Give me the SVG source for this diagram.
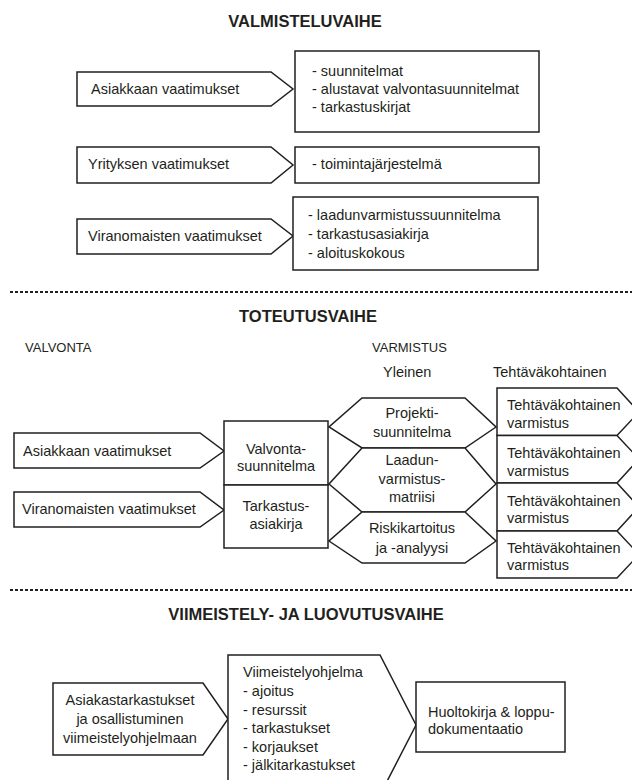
<svg xmlns="http://www.w3.org/2000/svg" width="632" height="780" viewBox="0 0 632 780">
<style>
.s{fill:#fff;stroke:#231f20;stroke-width:1.5;stroke-linejoin:miter}
text{font-family:"Liberation Sans",Arial,sans-serif;font-size:14.5px;fill:#231f20}
.t{font-weight:bold;font-size:16.5px;text-anchor:middle}
.h{font-size:13px}
.c{text-anchor:middle}
.d{fill:none;stroke:#231f20;stroke-width:2;stroke-dasharray:3 2}
</style>
<rect width="632" height="780" fill="#fff"/>

<g id="titles">
<text class="t" x="305" y="27">VALMISTELUVAIHE</text>
<text class="t" x="308" y="322">TOTEUTUSVAIHE</text>
<text class="t" x="306" y="620">VIIMEISTELY- JA LUOVUTUSVAIHE</text>
</g>

<g id="separators">
<line class="d" x1="10" y1="292" x2="632" y2="292"/>
<line class="d" x1="10" y1="590" x2="632" y2="590"/>
</g>

<g id="connectors"></g>

<!-- Section 1 -->
<g id="p1-asiakkaan">
<polygon class="s" points="77,72 271,72 293,89 271,106 77,106"/>
<text x="91" y="94">Asiakkaan vaatimukset</text>
</g>
<g id="p1-asiakkaan-box">
<rect class="s" x="295" y="51" width="244" height="81"/>
<text x="312" y="76">- suunnitelmat</text>
<text x="312" y="94">- alustavat valvontasuunnitelmat</text>
<text x="312" y="112">- tarkastuskirjat</text>
</g>
<g id="p1-yrityksen">
<polygon class="s" points="77,147 271,147 293,165 271,183 77,183"/>
<text x="88" y="169">Yrityksen vaatimukset</text>
</g>
<g id="p1-yrityksen-box">
<rect class="s" x="295" y="147" width="244" height="36"/>
<text x="312" y="169">- toimintajärjestelmä</text>
</g>
<g id="p1-viranomaisten">
<polygon class="s" points="77,219 271,219 293,236 271,254 77,254"/>
<text x="88" y="241">Viranomaisten vaatimukset</text>
</g>
<g id="p1-viranomaisten-box">
<rect class="s" x="293" y="197" width="245" height="73"/>
<text x="308" y="220">- laadunvarmistussuunnitelma</text>
<text x="308" y="239">- tarkastusasiakirja</text>
<text x="308" y="258">- aloituskokous</text>
</g>

<!-- Section 2 -->
<g id="p2-labels">
<text class="h" x="25" y="352">VALVONTA</text>
<text class="h" x="372" y="352">VARMISTUS</text>
<text x="383" y="377">Yleinen</text>
<text x="493" y="377">Tehtäväkohtainen</text>
</g>
<g id="p2-asiakkaan">
<polygon class="s" points="14,433 200,433 224,451 200,468 14,468"/>
<text x="23" y="456">Asiakkaan vaatimukset</text>
</g>
<g id="p2-viranomaisten">
<polygon class="s" points="14,492 200,492 224,510 200,527 14,527"/>
<text x="22" y="514">Viranomaisten vaatimukset</text>
</g>
<g id="p2-valvontasuunnitelma">
<rect class="s" x="224" y="421" width="104" height="64"/>
<text class="c" x="276" y="454">Valvonta-</text>
<text class="c" x="276" y="471">suunnitelma</text>
</g>
<g id="p2-tarkastusasiakirja">
<rect class="s" x="224" y="485" width="104" height="63"/>
<text class="c" x="276" y="511">Tarkastus-</text>
<text class="c" x="276" y="529">asiakirja</text>
</g>
<g id="p2-projektisuunnitelma">
<polygon class="s" points="362,398 465,398 496,427 465,448 362,448 329,427"/>
<text class="c" x="412" y="418">Projekti-</text>
<text class="c" x="412" y="437">suunnitelma</text>
</g>
<g id="p2-laadunvarmistusmatriisi">
<polygon class="s" points="362,448 465,448 496,484 465,512 362,512 329,484"/>
<text class="c" x="412" y="465">Laadun-</text>
<text class="c" x="412" y="484">varmistus-</text>
<text class="c" x="412" y="502">matriisi</text>
</g>
<g id="p2-riskikartoitus">
<polygon class="s" points="362,512 465,512 496,541 465,563 362,563 329,541"/>
<text class="c" x="412" y="533">Riskikartoitus</text>
<text class="c" x="412" y="553">ja -analyysi</text>
</g>
<g id="p2-tehtava1">
<polygon class="s" points="497,388 617,388 639,412 617,435.5 497,435.5"/>
<text x="507" y="410">Tehtäväkohtainen</text>
<text x="507" y="428">varmistus</text>
</g>
<g id="p2-tehtava2">
<polygon class="s" points="497,435.5 617,435.5 639,459 617,483 497,483"/>
<text x="507" y="458">Tehtäväkohtainen</text>
<text x="507" y="476">varmistus</text>
</g>
<g id="p2-tehtava3">
<polygon class="s" points="497,483 617,483 639,507 617,531 497,531"/>
<text x="507" y="506">Tehtäväkohtainen</text>
<text x="507" y="523">varmistus</text>
</g>
<g id="p2-tehtava4">
<polygon class="s" points="497,531 617,531 639,554.5 617,578 497,578"/>
<text x="507" y="553">Tehtäväkohtainen</text>
<text x="507" y="570">varmistus</text>
</g>

<!-- Section 3 -->
<g id="p3-asiakastarkastukset">
<polygon class="s" points="53,683 203,683 228,719 203,755 53,755"/>
<text class="c" x="130" y="705">Asiakastarkastukset</text>
<text class="c" x="130" y="724">ja osallistuminen</text>
<text class="c" x="130" y="743">viimeistelyohjelmaan</text>
</g>
<g id="p3-viimeistelyohjelma">
<polygon class="s" points="228,655 380,655 416,725 380,795 228,795"/>
<text x="243" y="677">Viimeistelyohjelma</text>
<text x="243" y="696">- ajoitus</text>
<text x="243" y="714.5">- resurssit</text>
<text x="243" y="733">- tarkastukset</text>
<text x="243" y="751.5">- korjaukset</text>
<text x="243" y="770">- jälkitarkastukset</text>
</g>
<g id="p3-huoltokirja">
<rect class="s" x="416" y="682" width="149" height="70"/>
<text x="428" y="717">Huoltokirja &amp; loppu-</text>
<text x="428" y="734">dokumentaatio</text>
</g>
</svg>
